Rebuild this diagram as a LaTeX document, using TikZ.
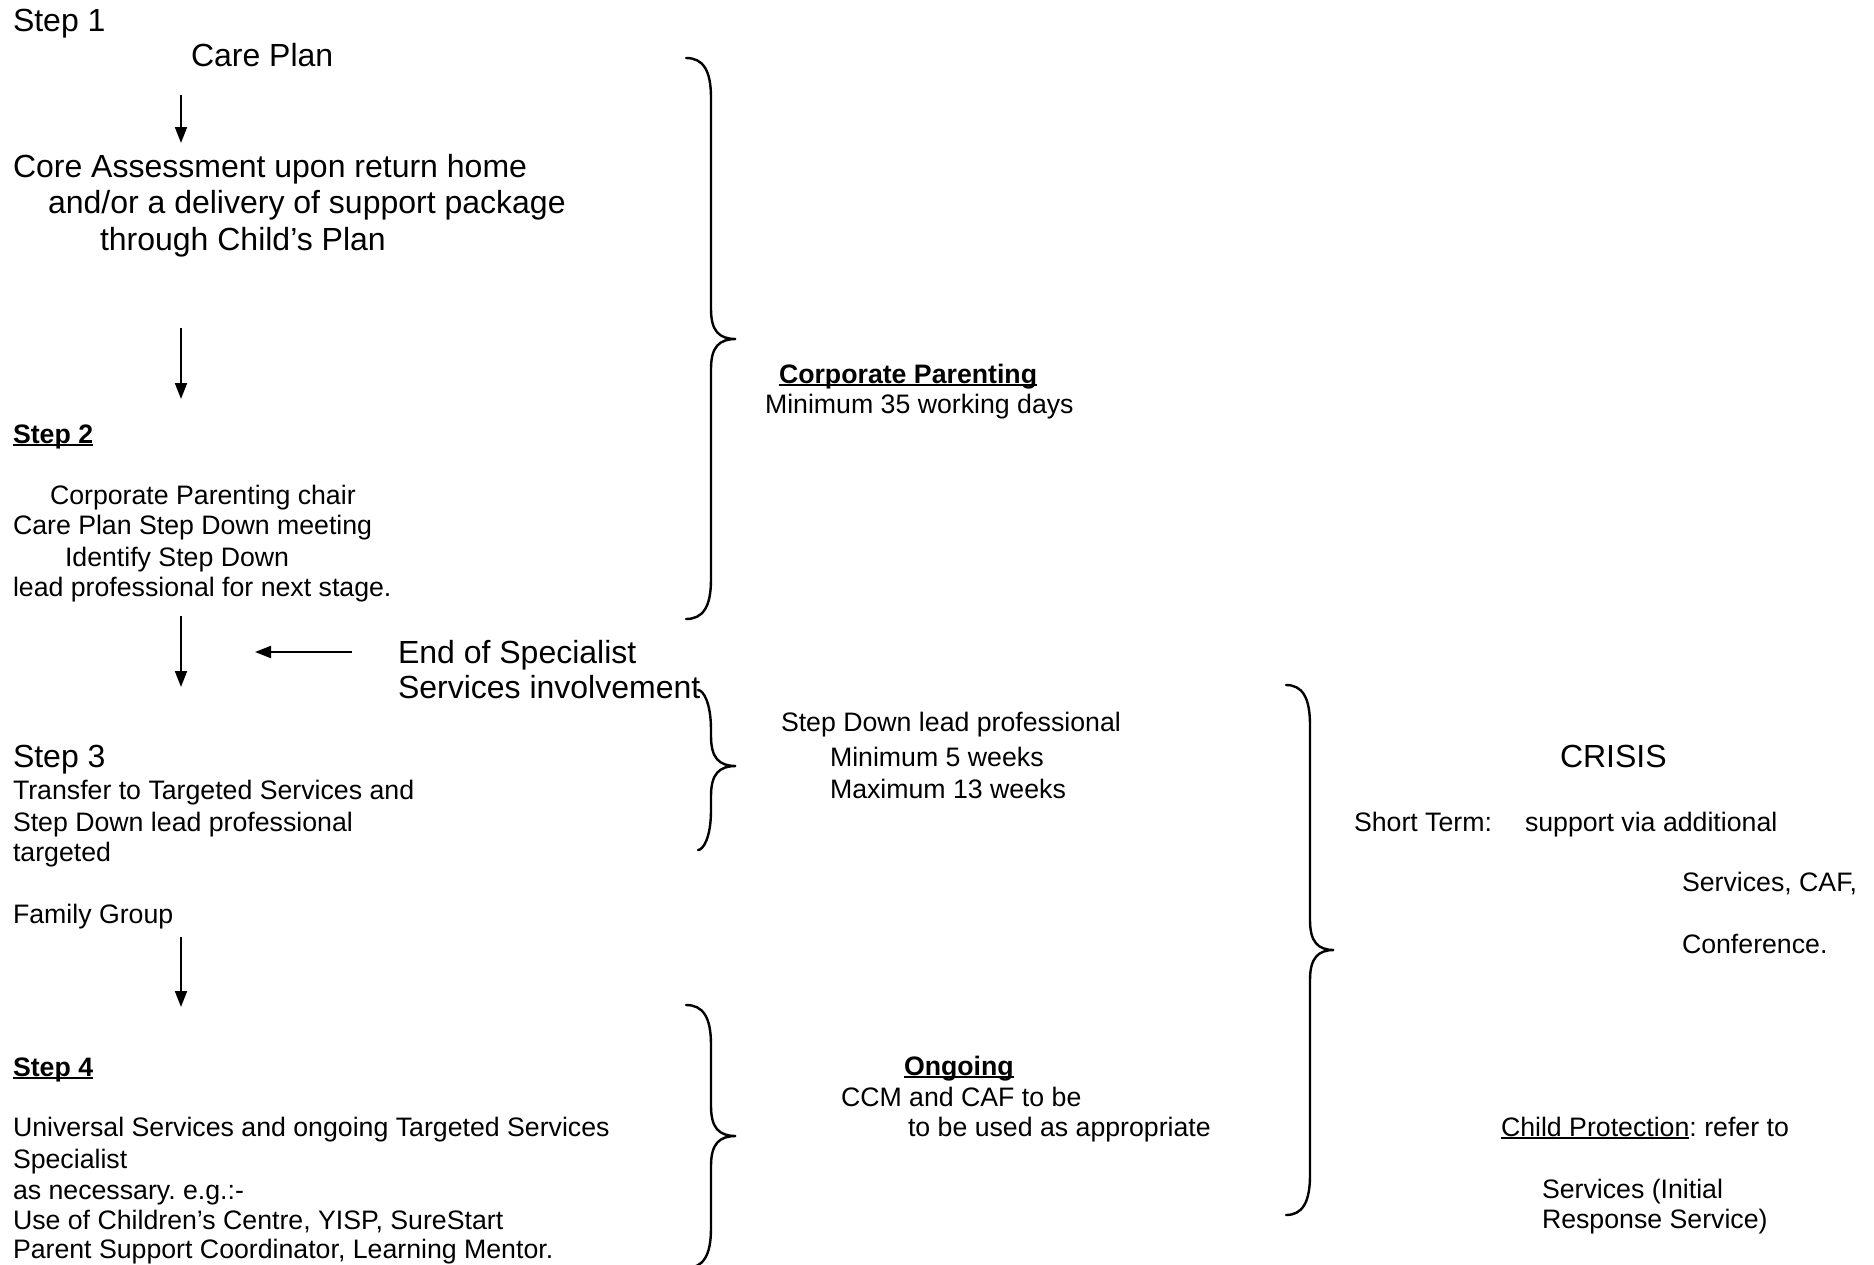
\documentclass[tikz,border=0pt]{standalone}
\usepackage{fontspec}
\setmainfont{Liberation Sans}
\usetikzlibrary{arrows.meta}
\frenchspacing
\newcommand\ulx[1]{\setbox0\hbox{#1}\rlap{\rule[-0.12em]{\wd0}{0.075em}}\box0}
\newcommand\drawbrace[6]{% xe xv xt yt ym yb
  \draw[brc] (#1,#4) .. controls ({#2-8},#4) and (#2,{#4+12}) .. (#2,{#4+40})
    -- (#2,{#5-30}) .. controls (#2,{#5-8}) and ({#2+8},#5) .. (#3,#5)
    .. controls ({#2+8},#5) and (#2,{#5+8}) .. (#2,{#5+30})
    -- (#2,{#6-40}) .. controls (#2,{#6-12}) and ({#2-8},#6) .. (#1,#6);}
\begin{document}
\begin{tikzpicture}[x=1pt,y=-1pt,
  txt/.style={anchor=base west, inner sep=0pt, outer sep=0pt},
  big/.style={txt, font=\fontsize{32}{37}\selectfont\frenchspacing},
  sml/.style={txt, font=\fontsize{26.7}{31}\selectfont\frenchspacing},
  arr/.style={line width=2pt, -{Triangle[width=12pt,length=16pt]}},
  brc/.style={line width=2.4pt, line cap=round}]
\useasboundingbox (0,0) rectangle (1874,1264);
\fill[white] (0,0) rectangle (1874,1264);

% left column
\node[big] (s1) at (13,31) {Step 1};
\node[big] (cp) at (191,66) {Care Plan};
\node[big] (ca1) at (13,177) {Core Assessment upon return home};
\node[big] (ca2) at (48,213) {and/or a delivery of support package};
\node[big] (ca3) at (100,250) {through Child’s Plan};
\node[sml] (s2) at (13,443) {\bfseries\ulx{Step 2}};
\node[sml] (s2a) at (50,504) {Corporate Parenting chair};
\node[sml] (s2b) at (13,534) {Care Plan Step Down meeting};
\node[sml] (s2c) at (65,566) {Identify Step Down};
\node[sml] (s2d) at (13,596) {lead professional for next stage.};
\node[big] (es1) at (398,663) {End of Specialist};
\node[big] (es2) at (398,698) {Services involvement};
\node[big] (s3) at (13,767) {Step 3};
\node[sml] (s3a) at (13,799) {Transfer to Targeted Services and};
\node[sml] (s3b) at (13,831) {Step Down lead professional};
\node[sml] (s3c) at (13,861) {targeted};
\node[sml] (fg) at (13,923) {Family Group};
\node[sml] (s4) at (13,1076) {\bfseries\ulx{Step 4}};
\node[sml] (s4a) at (13,1136) {Universal Services and ongoing Targeted Services};
\node[sml] (s4b) at (13,1168) {Specialist};
\node[sml] (s4c) at (13,1199) {as necessary. e.g.:-};
\node[sml] (s4d) at (13,1229) {Use of Children’s Centre, YISP, SureStart};
\node[sml] (s4e) at (13,1258) {Parent Support Coordinator, Learning Mentor.};

% middle column
\node[sml] (cpt) at (779,383) {\bfseries\ulx{Corporate Parenting}};
\node[sml] (cpm) at (765,413) {Minimum 35 working days};
\node[sml] (sd) at (781,731) {Step Down lead professional};
\node[sml] (min5) at (830,766) {Minimum 5 weeks};
\node[sml] (max13) at (830,798) {Maximum 13 weeks};
\node[sml] (og) at (904,1075) {\bfseries\ulx{Ongoing}};
\node[sml] (ccm) at (841,1106) {CCM and CAF to be};
\node[sml] (tbu) at (908,1136) {to be used as appropriate};

% right column
\node[big] (cr) at (1560,767) {CRISIS};
\node[sml] (st) at (1354,831) {Short Term:};
\node[sml] (sv) at (1525,831) {support via additional};
\node[sml] (sc) at (1682,891) {Services, CAF,};
\node[sml] (cf) at (1682,953) {Conference.};
\node[sml] (chp) at (1501,1136) {\ulx{Child Protection}: refer to};
\node[sml] (si) at (1542,1198) {Services (Initial};
\node[sml] (rs) at (1542,1228) {Response Service)};

% arrows
\coordinate (a1s) at (181,95);  \coordinate (a1e) at (181,143);
\coordinate (a2s) at (181,328); \coordinate (a2e) at (181,399);
\coordinate (a3s) at (181,616); \coordinate (a3e) at (181,687);
\coordinate (a4s) at (181,937); \coordinate (a4e) at (181,1007);
\coordinate (hs) at (352,652);  \coordinate (he) at (255,652);
\draw[arr] (a1s) -- (a1e);
\draw[arr] (a2s) -- (a2e);
\draw[arr] (a3s) -- (a3e);
\draw[arr] (a4s) -- (a4e);
\draw[arr] (hs) -- (he);

% braces
\drawbrace{686}{711}{736}{58}{339}{619}
\drawbrace{698}{711}{736}{690}{766}{850}
\drawbrace{686}{711}{736}{1005}{1136}{1268}
\drawbrace{1286}{1310}{1334}{685}{950}{1215}
\end{tikzpicture}
\end{document}
